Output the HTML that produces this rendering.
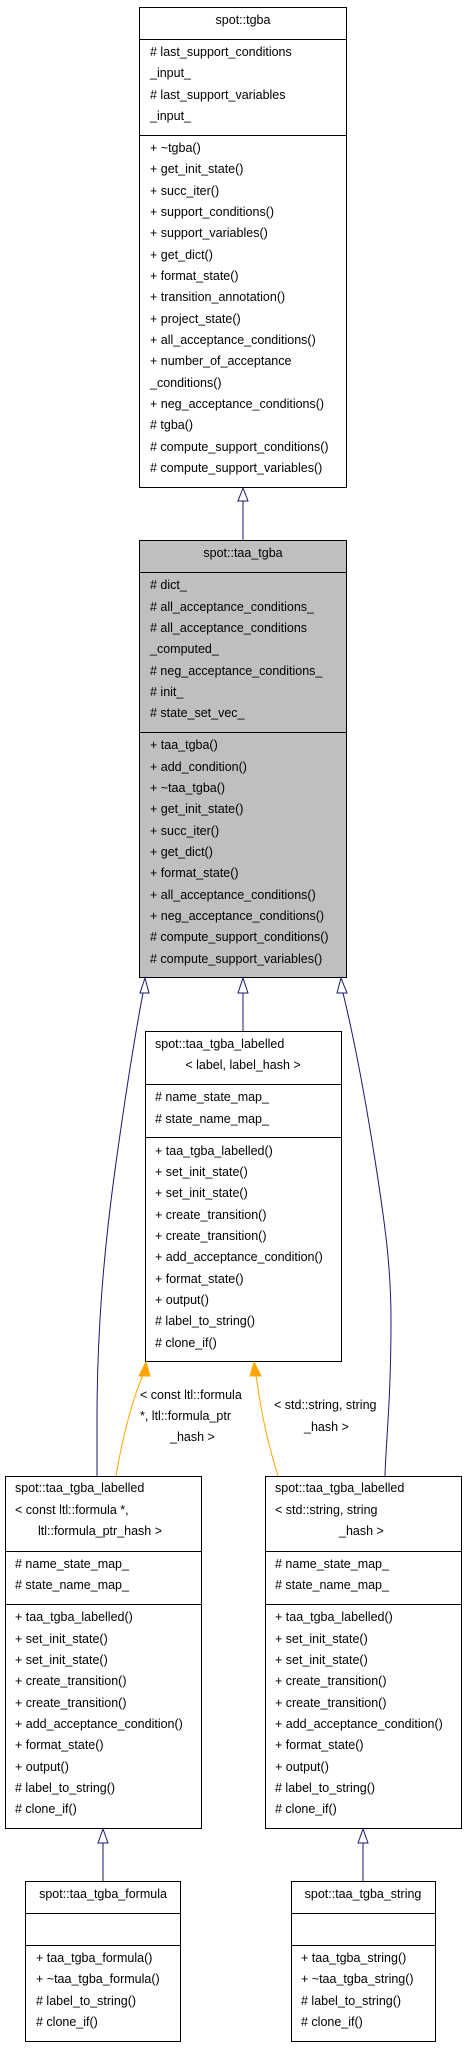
<!DOCTYPE html>
<html><head><meta charset="utf-8"><style>
html,body{margin:0;padding:0;background:#fff;}
svg{display:block;}
text{font-family:"Liberation Sans",Helvetica,Arial,sans-serif;font-size:12.5px;fill:#000;}
.c{text-anchor:middle;}
</style></head><body>
<svg width="465" height="2048" viewBox="0 0 465 2048" xmlns="http://www.w3.org/2000/svg">
<!-- spot::tgba -->
<rect x="139.5" y="7.5" width="207" height="480" fill="#fff" stroke="#000"/>
<line x1="139.5" y1="39.5" x2="346.5" y2="39.5" stroke="#000"/>
<line x1="139.5" y1="135.5" x2="346.5" y2="135.5" stroke="#000"/>
<text class="c" x="243" y="24">spot::tgba</text>
<g>
<text x="150" y="56"># last_support_conditions</text>
<text x="150" y="77">_input_</text>
<text x="150" y="99"># last_support_variables</text>
<text x="150" y="120">_input_</text>
<text x="150" y="152">+ ~tgba()</text>
<text x="150" y="173">+ get_init_state()</text>
<text x="150" y="195">+ succ_iter()</text>
<text x="150" y="216">+ support_conditions()</text>
<text x="150" y="237">+ support_variables()</text>
<text x="150" y="259">+ get_dict()</text>
<text x="150" y="280">+ format_state()</text>
<text x="150" y="301">+ transition_annotation()</text>
<text x="150" y="323">+ project_state()</text>
<text x="150" y="344">+ all_acceptance_conditions()</text>
<text x="150" y="365">+ number_of_acceptance</text>
<text x="150" y="387">_conditions()</text>
<text x="150" y="408">+ neg_acceptance_conditions()</text>
<text x="150" y="429"># tgba()</text>
<text x="150" y="451"># compute_support_conditions()</text>
<text x="150" y="472"># compute_support_variables()</text>
</g>
<!-- arrow tgba -->
<line x1="243" y1="501" x2="243" y2="540" stroke="#191970"/>
<polygon points="243,488 238,501 248,501" fill="#fff" stroke="#191970"/>

<!-- spot::taa_tgba -->
<rect x="139.5" y="540.5" width="207" height="437" fill="#bfbfbf" stroke="#000"/>
<line x1="139.5" y1="572.5" x2="346.5" y2="572.5" stroke="#000"/>
<line x1="139.5" y1="732.5" x2="346.5" y2="732.5" stroke="#000"/>
<text class="c" x="243" y="557">spot::taa_tgba</text>
<text x="150" y="589"># dict_</text>
<text x="150" y="611"># all_acceptance_conditions_</text>
<text x="150" y="632"># all_acceptance_conditions</text>
<text x="150" y="653">_computed_</text>
<text x="150" y="675"># neg_acceptance_conditions_</text>
<text x="150" y="696"># init_</text>
<text x="150" y="717"># state_set_vec_</text>
<text x="150" y="749">+ taa_tgba()</text>
<text x="150" y="771">+ add_condition()</text>
<text x="150" y="792">+ ~taa_tgba()</text>
<text x="150" y="813">+ get_init_state()</text>
<text x="150" y="835">+ succ_iter()</text>
<text x="150" y="856">+ get_dict()</text>
<text x="150" y="877">+ format_state()</text>
<text x="150" y="899">+ all_acceptance_conditions()</text>
<text x="150" y="920">+ neg_acceptance_conditions()</text>
<text x="150" y="941"># compute_support_conditions()</text>
<text x="150" y="963"># compute_support_variables()</text>

<!-- connectors from taa_tgba -->
<path d="M143,993 C136,1030 126,1090 115,1170 C104,1250 97,1330 97,1420 L97,1476" fill="none" stroke="#191970"/>
<polygon points="145,978 140,993 149,993" fill="#fff" stroke="#191970"/>
<line x1="243" y1="993" x2="243" y2="1031" stroke="#191970"/>
<polygon points="243,978 238,993 248,993" fill="#fff" stroke="#191970"/>
<path d="M343,993 C352,1030 364,1090 375,1160 C386,1230 391,1270 391,1320 C391,1400 386,1440 385,1476" fill="none" stroke="#191970"/>
<polygon points="341,978 337,993 347,993" fill="#fff" stroke="#191970"/>

<!-- middle labelled -->
<rect x="145.5" y="1031.5" width="196" height="330" fill="#fff" stroke="#000"/>
<line x1="145.5" y1="1084.5" x2="341.5" y2="1084.5" stroke="#000"/>
<line x1="145.5" y1="1137.5" x2="341.5" y2="1137.5" stroke="#000"/>
<text x="155" y="1048">spot::taa_tgba_labelled</text>
<text class="c" x="243" y="1069">&lt; label, label_hash &gt;</text>
<text x="155" y="1101"># name_state_map_</text>
<text x="155" y="1123"># state_name_map_</text>
<text x="155" y="1155">+ taa_tgba_labelled()</text>
<text x="155" y="1176">+ set_init_state()</text>
<text x="155" y="1197">+ set_init_state()</text>
<text x="155" y="1219">+ create_transition()</text>
<text x="155" y="1240">+ create_transition()</text>
<text x="155" y="1261">+ add_acceptance_condition()</text>
<text x="155" y="1283">+ format_state()</text>
<text x="155" y="1304">+ output()</text>
<text x="155" y="1325"># label_to_string()</text>
<text x="155" y="1347"># clone_if()</text>

<!-- orange connectors -->
<path d="M116,1476 C122,1440 132,1400 143,1375" fill="none" stroke="#ffa500"/>
<polygon points="146,1362 139,1376 150,1376" fill="#ffa500" stroke="#ffa500"/>
<path d="M278,1476 C270,1450 262,1420 256,1375" fill="none" stroke="#ffa500"/>
<polygon points="254,1362 250,1376 261,1376" fill="#ffa500" stroke="#ffa500"/>
<text x="140" y="1399">&lt; const ltl::formula</text>
<text x="140" y="1420">*, ltl::formula_ptr</text>
<text x="170" y="1441">_hash &gt;</text>
<text x="274" y="1409">&lt; std::string, string</text>
<text x="304" y="1431">_hash &gt;</text>

<!-- bottom-left labelled -->
<rect x="5.5" y="1476.5" width="196" height="352" fill="#fff" stroke="#000"/>
<line x1="5.5" y1="1551.5" x2="201.5" y2="1551.5" stroke="#000"/>
<line x1="5.5" y1="1604.5" x2="201.5" y2="1604.5" stroke="#000"/>
<text x="15" y="1492">spot::taa_tgba_labelled</text>
<text x="15" y="1514">&lt; const ltl::formula *,</text>
<text x="38" y="1535">ltl::formula_ptr_hash &gt;</text>
<text x="15" y="1568"># name_state_map_</text>
<text x="15" y="1589"># state_name_map_</text>
<text x="15" y="1621">+ taa_tgba_labelled()</text>
<text x="15" y="1643">+ set_init_state()</text>
<text x="15" y="1664">+ set_init_state()</text>
<text x="15" y="1685">+ create_transition()</text>
<text x="15" y="1707">+ create_transition()</text>
<text x="15" y="1728">+ add_acceptance_condition()</text>
<text x="15" y="1749">+ format_state()</text>
<text x="15" y="1771">+ output()</text>
<text x="15" y="1792"># label_to_string()</text>
<text x="15" y="1813"># clone_if()</text>

<!-- bottom-right labelled -->
<rect x="265.5" y="1476.5" width="196" height="352" fill="#fff" stroke="#000"/>
<line x1="265.5" y1="1551.5" x2="461.5" y2="1551.5" stroke="#000"/>
<line x1="265.5" y1="1604.5" x2="461.5" y2="1604.5" stroke="#000"/>
<text x="275" y="1492">spot::taa_tgba_labelled</text>
<text x="275" y="1514">&lt; std::string, string</text>
<text x="339" y="1535">_hash &gt;</text>
<text x="275" y="1568"># name_state_map_</text>
<text x="275" y="1589"># state_name_map_</text>
<text x="275" y="1621">+ taa_tgba_labelled()</text>
<text x="275" y="1643">+ set_init_state()</text>
<text x="275" y="1664">+ set_init_state()</text>
<text x="275" y="1685">+ create_transition()</text>
<text x="275" y="1707">+ create_transition()</text>
<text x="275" y="1728">+ add_acceptance_condition()</text>
<text x="275" y="1749">+ format_state()</text>
<text x="275" y="1771">+ output()</text>
<text x="275" y="1792"># label_to_string()</text>
<text x="275" y="1813"># clone_if()</text>

<!-- bottom arrows -->
<line x1="103" y1="1843" x2="103" y2="1881" stroke="#191970"/>
<polygon points="103,1829 98,1843 108,1843" fill="#fff" stroke="#191970"/>
<line x1="363" y1="1843" x2="363" y2="1881" stroke="#191970"/>
<polygon points="363,1829 358,1843 368,1843" fill="#fff" stroke="#191970"/>

<!-- formula -->
<rect x="25.5" y="1881.5" width="155" height="160" fill="#fff" stroke="#000"/>
<line x1="25.5" y1="1913.5" x2="180.5" y2="1913.5" stroke="#000"/>
<line x1="25.5" y1="1945.5" x2="180.5" y2="1945.5" stroke="#000"/>
<text class="c" x="103" y="1898">spot::taa_tgba_formula</text>
<text x="36" y="1962">+ taa_tgba_formula()</text>
<text x="36" y="1983">+ ~taa_tgba_formula()</text>
<text x="36" y="2005"># label_to_string()</text>
<text x="36" y="2026"># clone_if()</text>

<!-- string -->
<rect x="291.5" y="1881.5" width="144" height="160" fill="#fff" stroke="#000"/>
<line x1="291.5" y1="1913.5" x2="435.5" y2="1913.5" stroke="#000"/>
<line x1="291.5" y1="1945.5" x2="435.5" y2="1945.5" stroke="#000"/>
<text class="c" x="363" y="1898">spot::taa_tgba_string</text>
<text x="301" y="1962">+ taa_tgba_string()</text>
<text x="301" y="1983">+ ~taa_tgba_string()</text>
<text x="301" y="2005"># label_to_string()</text>
<text x="301" y="2026"># clone_if()</text>
</svg>
</body></html>
